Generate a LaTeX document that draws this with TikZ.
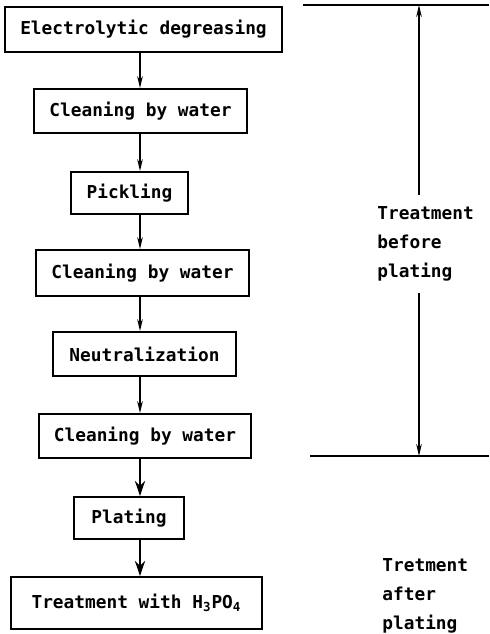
\documentclass[tikz,border=0pt]{standalone}
\usepackage{fontspec}
\setmonofont{DejaVu Sans Mono}
\usetikzlibrary{arrows.meta}

\begin{document}
\begin{tikzpicture}[x=0.5pt,y=-0.5pt,
        stepbox/.style={draw, line width=0.9pt, inner sep=0pt, font=\ttfamily\bfseries\fontsize{8.9}{11}\selectfont},
        flow/.style={-{Stealth[length=6pt,width=2.8pt]}, line width=0.7pt},
        flowbold/.style={-{Stealth[length=7.5pt,width=5pt]}, line width=1.4pt},
        note/.style={align=left, anchor=west, inner sep=0pt, font=\ttfamily\bfseries\fontsize{8.9}{14.5}\selectfont}]
        \useasboundingbox (0,0) rectangle (489,634);
        \node[stepbox, minimum width=138.5pt, minimum height=22.5pt] (degrease) at (143.5,29.5) {Electrolytic degreasing};
        \node[stepbox, minimum width=106.5pt, minimum height=22pt] (rinseA) at (140.5,111) {Cleaning by water};
        \node[stepbox, minimum width=58.5pt, minimum height=21pt] (pickle) at (129.5,193) {Pickling};
        \node[stepbox, minimum width=106.5pt, minimum height=23pt] (rinseB) at (142.5,273) {Cleaning by water};
        \node[stepbox, minimum width=91.5pt, minimum height=22pt] (neutral) at (144.5,354) {Neutralization};
        \node[stepbox, minimum width=106pt, minimum height=22pt] (rinseC) at (145,436) {Cleaning by water};
        \node[stepbox, minimum width=55pt, minimum height=21pt] (plate) at (129,518) {Plating};
        \node[stepbox, minimum width=125.5pt, minimum height=26pt] (phos) at (136.5,603) {Treatment with H\textsubscript{3}PO\textsubscript{4}};
        \coordinate (spine) at (140,0);
        \draw[flow] (degrease.south -| spine) -- (rinseA.north -| spine);
        \draw[flow] (rinseA.south -| spine) -- (pickle.north -| spine);
        \draw[flow] (pickle.south -| spine) -- (rinseB.north -| spine);
        \draw[flow] (rinseB.south -| spine) -- (neutral.north -| spine);
        \draw[flow] (neutral.south -| spine) -- (rinseC.north -| spine);
        \draw[flowbold] (rinseC.south -| spine) -- (plate.north -| spine);
        \draw[flowbold] (plate.south -| spine) -- (phos.north -| spine);

        \coordinate (topL) at (303,5);
        \coordinate (topR) at (489,5);
        \coordinate (botL) at (310,456);
        \coordinate (botR) at (489,456);
        \draw[line width=0.9pt] (topL) -- (topR);
        \draw[line width=0.9pt] (botL) -- (botR);
        \node[note] (before) at (377,244) {Treatment\\before\\plating};
        \node[note] (after) at (382,596) {Tretment\\after\\plating};
        \coordinate (upend) at (419,195);
        \coordinate (downend) at (419,293);
        \draw[flow] (upend) -- (topL -| upend);
        \draw[flow] (downend) -- (botL -| downend);
    \end{tikzpicture}
\end{document}
